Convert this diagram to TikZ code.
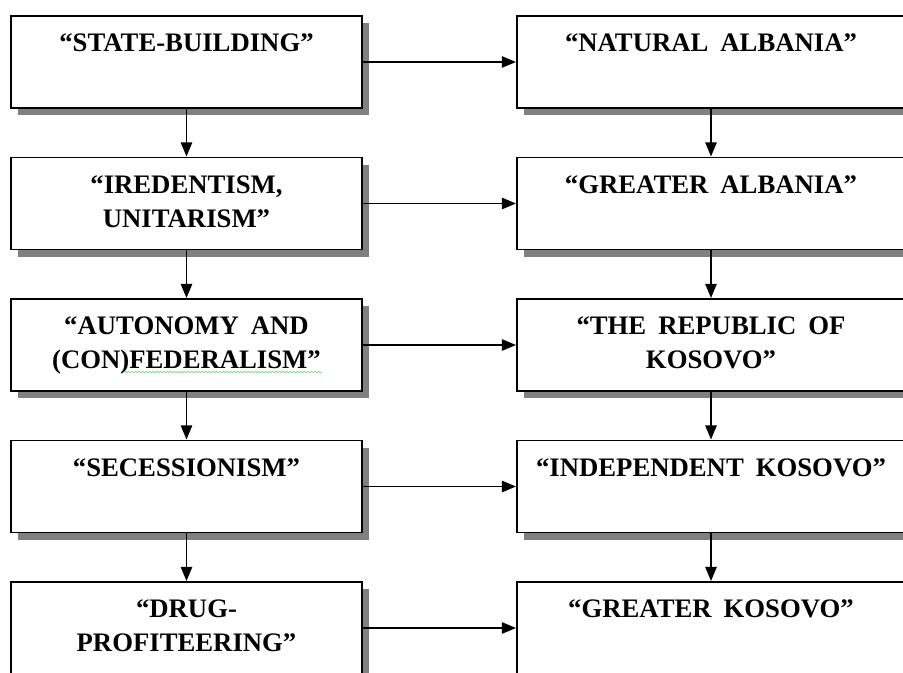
\documentclass[tikz,border=0pt]{standalone}
\usepackage{fontspec}
\setmainfont{Liberation Serif}
\usetikzlibrary{shadows,arrows.meta,decorations.pathmorphing}
\newcommand{\wgap}{\hspace{0.45em}}

\begin{document}
\begin{tikzpicture}[
	box/.style={draw, line width=1.4pt, fill=white, minimum height=2.3cm, inner sep=0pt,
		drop shadow={shadow xshift=5pt, shadow yshift=-5pt, fill=black!50, opacity=1}},
	leftbox/.style={box, minimum width=8.775cm},
	rightbox/.style={box, minimum width=9.7cm},
	txt/.style={anchor=north, inner sep=0pt, align=center, yshift=-0.47cm,
		font=\fontsize{19}{24}\selectfont\bfseries},
	arr/.style={line width=1.2pt, -{Triangle[length=10pt,width=8pt]}}
	]
	\useasboundingbox (0,0) rectangle (22.575,-16.8);
	
	% left column
	\node[leftbox] (sb) at (4.6625,-1.55) {};
	\node[leftbox] (ir) at (4.6625,-5.0875) {};
	\node[leftbox] (au) at (4.6625,-8.625) {};
	\node[leftbox] (se) at (4.6625,-12.1625) {};
	\node[leftbox] (dp) at (4.6625,-15.7) {};
	\node[txt] (sbt) at (sb.north) {“STATE-BUILDING”};
	\node[txt] (irt) at (ir.north) {“IREDENTISM,\\UNITARISM”};
	\node[txt] (aut) at (au.north) {“AUTONOMY\wgap AND\\(CON)FEDERALISM”};
	\node[txt] (set) at (se.north) {“SECESSIONISM”};
	\node[txt] (dpt) at (dp.north) {“DRUG-\\PROFITEERING”};
	
	% right column
	\node[rightbox] (na) at (17.775,-1.55) {};
	\node[rightbox] (ga) at (17.775,-5.0875) {};
	\node[rightbox] (rk) at (17.775,-8.625) {};
	\node[rightbox] (ik) at (17.775,-12.1625) {};
	\node[rightbox] (gk) at (17.775,-15.7) {};
	\node[txt] (nat) at (na.north) {“NATURAL\wgap ALBANIA”};
	\node[txt] (gat) at (ga.north) {“GREATER\wgap ALBANIA”};
	\node[txt] (rkt) at (rk.north) {“THE\wgap REPUBLIC\wgap OF\\KOSOVO”};
	\node[txt] (ikt) at (ik.north) {“INDEPENDENT\wgap KOSOVO”};
	\node[txt] (gkt) at (gk.north) {“GREATER\wgap KOSOVO”};
	
	% spell-check underline
	\coordinate (sq1) at (3.1,-9.3);
	\coordinate (sq2) at (8.05,-9.3);
	\draw[green!70!black!50, line width=0.5pt, decorate,
		decoration={snake, amplitude=0.6pt, segment length=2.5pt}] (sq1) -- (sq2);
	
	% arrows across
	\draw[arr] (sb.east) -- (na.west);
	\draw[arr] (ir.east) -- (ga.west);
	\draw[arr] (au.east) -- (rk.west);
	\draw[arr] (se.east) -- (ik.west);
	\draw[arr] (dp.east) -- (gk.west);
	
	% arrows down
	\draw[arr] (sb.south) -- (ir.north);
	\draw[arr] (ir.south) -- (au.north);
	\draw[arr] (au.south) -- (se.north);
	\draw[arr] (se.south) -- (dp.north);
	\draw[arr] (na.south) -- (ga.north);
	\draw[arr] (ga.south) -- (rk.north);
	\draw[arr] (rk.south) -- (ik.north);
	\draw[arr] (ik.south) -- (gk.north);
\end{tikzpicture}
\end{document}
